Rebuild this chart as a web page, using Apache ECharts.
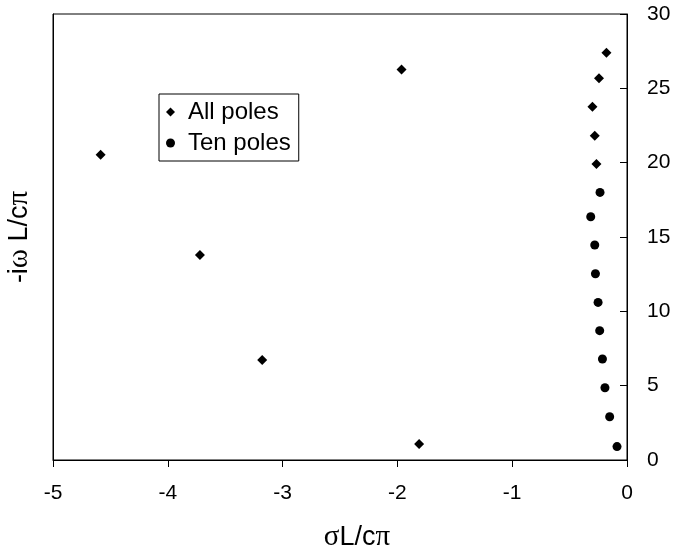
<!DOCTYPE html>
<html>
<head>
<meta charset="utf-8">
<script src="https://cdn.jsdelivr.net/npm/echarts@6/dist/echarts.min.js"></script>
<style>
  html, body { margin: 0; padding: 0; background: #fff; }
  #main { width: 677px; height: 554px; }
</style>
</head>
<body>
<div id="main"></div>
<script>
// values
var allPolesX = [-4.585, -3.720, -3.178, -1.964, -1.811, -0.179, -0.244, -0.301, -0.281, -0.266];
var allPolesY = [20.53, 13.79, 6.72, 26.27, 1.08, 27.39, 25.67, 23.76, 21.81, 19.91];

var tenPolesX = [-0.235, -0.316, -0.281, -0.275, -0.252, -0.238, -0.214, -0.192, -0.151, -0.087];
var tenPolesY = [18.0, 16.36, 14.46, 12.53, 10.6, 8.70, 6.79, 4.86, 2.91, 0.90];

var xTicks = [-5, -4, -3, -2, -1, 0];
var yTicks = [0, 5, 10, 15, 20, 25, 30];

function pairs(xs, ys) {
  return xs.map(function (x, i) { return [x, ys[i]]; });
}

var font = 'Liberation Sans, Arial, sans-serif';
var serif = 'Liberation Serif, Times New Roman, serif';
var greek = { fontFamily: serif, fontSize: 29, color: '#000' };

var myChart = echarts.init(document.getElementById('main'));

var option = {
  animation: false,
  backgroundColor: '#fff',
  textStyle: { fontFamily: font, color: '#000' },
  grid: {
    left: 53, right: 50, top: 14, bottom: 94,
    outerBoundsMode: 'none',
    containLabel: false,
    show: true, borderColor: '#000', borderWidth: 1, backgroundColor: 'transparent'
  },
  legend: {
    orient: 'vertical',
    left: 159, top: 94,
    backgroundColor: '#fff',
    borderColor: '#000', borderWidth: 1,
    padding: [6, 8, 6, 7],
    itemGap: 7,
    itemWidth: 9, itemHeight: 9,
    textStyle: { fontFamily: font, fontSize: 24, color: '#000', padding: [0, 0, 0, 8] },
    data: [
      { name: 'All poles', icon: 'diamond' },
      { name: 'Ten poles', icon: 'circle' }
    ]
  },
  xAxis: {
    type: 'value',
    min: xTicks[0], max: xTicks[xTicks.length - 1], interval: 1,
    name: '{g|σ}L/c{g|π}',
    nameLocation: 'middle',
    nameGap: 63,
    nameTextStyle: {
      fontFamily: font, fontSize: 27, color: '#000', padding: [0, 0, 0, 34],
      rich: { g: greek }
    },
    axisLine: { show: true, onZero: false, lineStyle: { color: '#000', width: 1 } },
    axisTick: { show: true, inside: false, length: 7, lineStyle: { color: '#000' } },
    axisLabel: {
      margin: 23, fontSize: 21, color: '#000', fontFamily: font,
      showMinLabel: true, showMaxLabel: true
    },
    splitLine: { show: false }
  },
  yAxis: [
    {
      type: 'value',
      position: 'right',
      min: yTicks[0], max: yTicks[yTicks.length - 1], interval: 5,
      axisLine: { show: true, onZero: false, lineStyle: { color: '#000', width: 1 } },
      axisTick: { show: true, inside: true, length: 7, lineStyle: { color: '#000' } },
      axisLabel: { margin: 20, fontSize: 21, color: '#000', fontFamily: font },
      splitLine: { show: false }
    },
    {
      type: 'value',
      position: 'left',
      min: yTicks[0], max: yTicks[yTicks.length - 1], interval: 5,
      name: '-i{g|ω} L/c{g|π}',
      nameLocation: 'middle',
      nameRotate: 90,
      nameGap: 19,
      nameTextStyle: {
        fontFamily: font, fontSize: 27, color: '#000', padding: [0, 0, 0, 0],
        rich: { g: greek }
      },
      axisLine: { show: true, onZero: false, lineStyle: { color: '#000', width: 1 } },
      axisTick: { show: false },
      axisLabel: { show: false },
      splitLine: { show: false }
    }
  ],
  series: [
    {
      name: 'All poles',
      type: 'scatter',
      yAxisIndex: 0,
      symbol: 'diamond',
      symbolSize: 10,
      itemStyle: { color: '#000', opacity: 1 },
      data: pairs(allPolesX, allPolesY)
    },
    {
      name: 'Ten poles',
      type: 'scatter',
      yAxisIndex: 0,
      symbol: 'circle',
      symbolSize: 9,
      itemStyle: { color: '#000', opacity: 1 },
      data: pairs(tenPolesX, tenPolesY)
    }
  ]
};

option && myChart.setOption(option);
</script>
</body>
</html>
